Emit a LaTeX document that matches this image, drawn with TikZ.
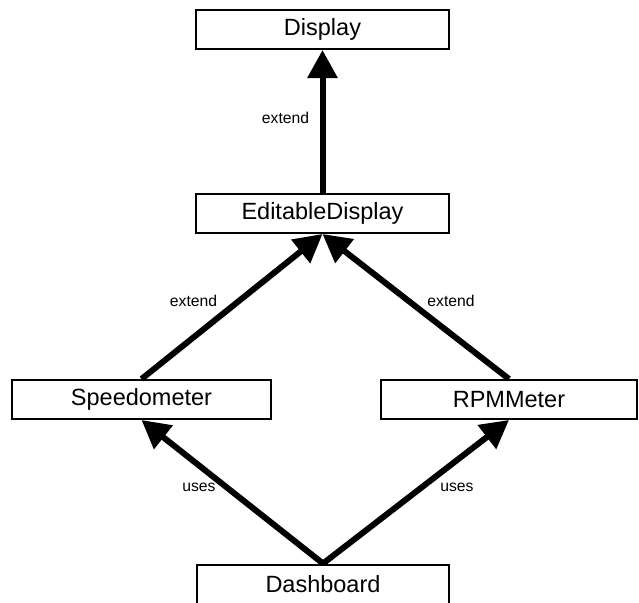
\documentclass[tikz,border=0pt]{standalone}
\usepackage{fontspec}
\setmainfont{Liberation Sans}
\usetikzlibrary{arrows.meta}

\begin{document}
\begin{tikzpicture}[x=0.5pt, y=-0.5pt,
                    line join=miter,
                    box/.style={draw, line width=1pt, minimum height=19.5pt, inner sep=0pt,
                                font=\fontsize{11.75}{14}\selectfont},
                    link/.style={line width=3pt, -{Triangle[length=14pt,width=14.5pt]}},
                    lbl/.style={font=\fontsize{7.85}{9}\selectfont, inner sep=0pt}]
  \useasboundingbox (0,0) rectangle (639,602);

  % classes
  \node[box, minimum width=126.5pt] (display)  at (322.5,29.5)  {Display};
  \node[box, minimum width=126.5pt] (editable) at (322.5,213.5) {EditableDisplay};
  \node[box, minimum width=129.5pt] (speedo)   at (141.5,399.5) {Speedometer};
  \node[box, minimum width=128pt]   (rpm)      at (509,399.5)   {RPMMeter};
  \node[box, minimum width=126pt]   (dash)     at (323,584)     {Dashboard};

  % inheritance
  \draw[link] (editable.north) -- (display.south);
  \draw[link] (speedo.north) -- (editable.south);
  \draw[link] (rpm.north) -- (editable.south);

  % usage
  \draw[link] (dash.north) -- (speedo.south);
  \draw[link] (dash.north) -- (rpm.south);

  % labels
  \node[lbl] (extTop)   at (285.5,118) {extend};
  \node[lbl] (extLeft)  at (193.5,301) {extend};
  \node[lbl] (extRight) at (451,301)   {extend};
  \node[lbl] (usesLeft)  at (199,487)  {uses};
  \node[lbl] (usesRight) at (457,487)  {uses};
\end{tikzpicture}
\end{document}
